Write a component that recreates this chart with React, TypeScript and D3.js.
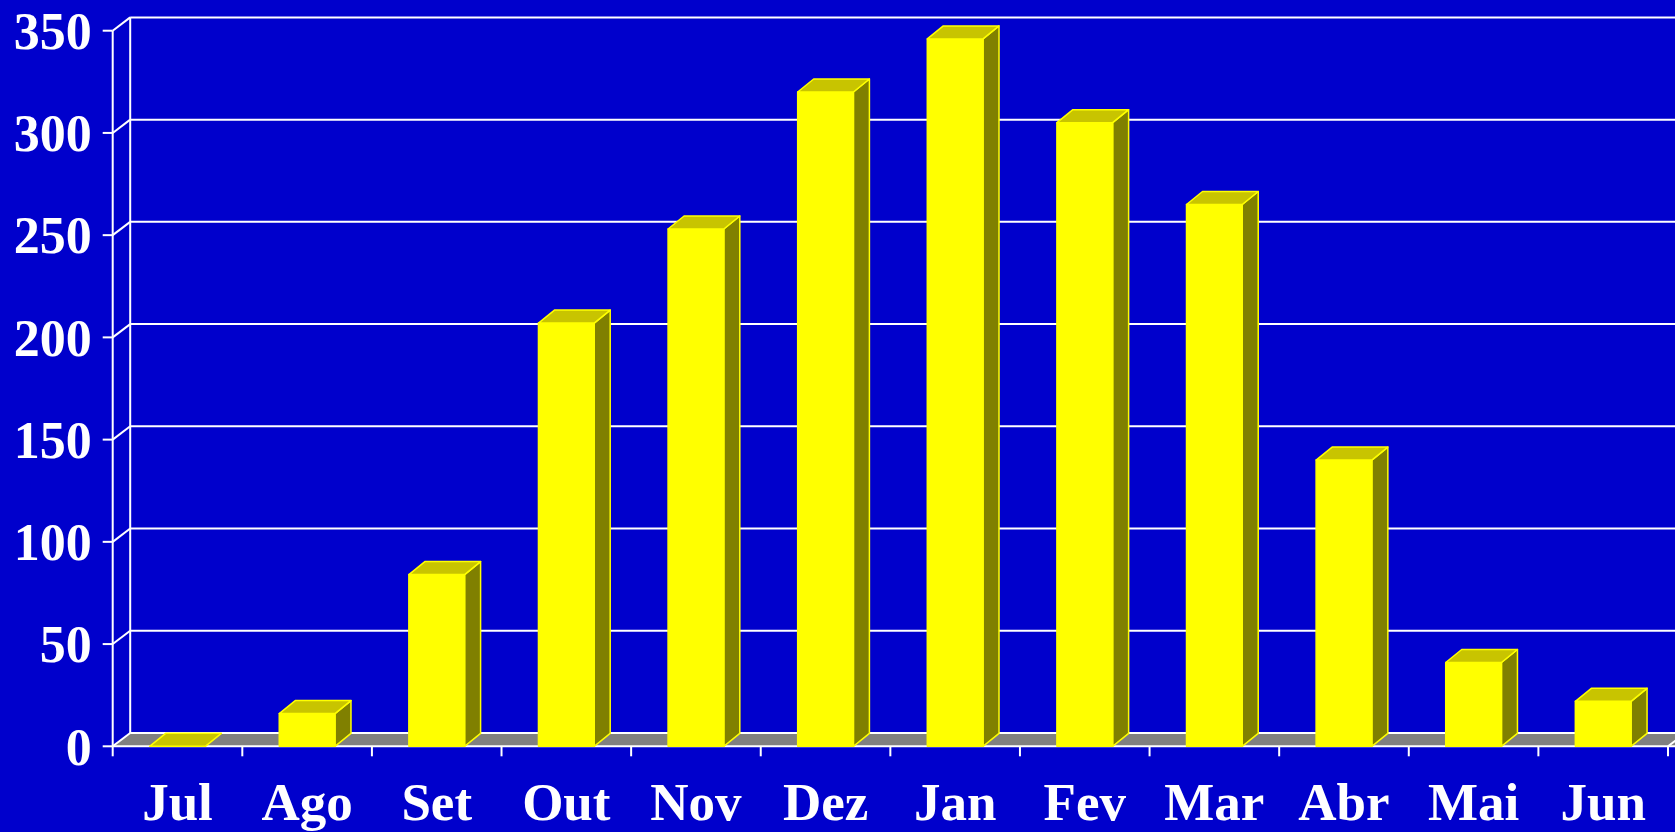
import React from 'react'
import * as d3 from 'd3'

// monthly values
const months = ['Jul', 'Ago', 'Set', 'Out', 'Nov', 'Dez', 'Jan', 'Fev', 'Mar', 'Abr', 'Mai', 'Jun']
const values = [0, 16, 84, 207, 253, 320, 346, 305, 265, 140, 41, 22]
const yTicks = [0, 50, 100, 150, 200, 250, 300, 350]

const W = 1675
const H = 832

const App = () => {
  const x0 = 112.7
  const x1 = 1668
  const yBase = 746.3
  const yTop = 30.7
  // depth of the 3d box
  const dx = 17.5
  const dy = -13.3
  const bdx = 16
  const bdy = -13

  const xScale = d3.scaleBand<string>()
    .domain(months)
    .range([x0, x1])
    .paddingInner(0.57)
    .paddingOuter(0.285)

  const yScale = d3.scaleLinear()
    .domain([0, 350])
    .range([yBase, yTop])

  const step = xScale.step()
  const tickXs = d3.range(months.length + 1).map(i => x0 + i * step)

  const font = '"Liberation Serif", "Times New Roman", serif'

  return (
    <div style={{ position: 'fixed', left: 0, top: 0 }}>
      <svg width={W} height={H} style={{ display: 'block' }}>
        <rect x={0} y={0} width={W} height={H} fill='#0000cc' />

        {/* floor */}
        <polygon
          points={`${x0},${yBase} ${x0 + dx},${yBase + dy} ${W + 30},${yBase + dy} ${W + 30},${yBase}`}
          fill='#808080'
        />

        {/* back wall grid + side wall diagonals */}
        {yTicks.map(t => (
          <g key={t}>
            <line x1={x0 + dx} x2={W + 30} y1={yScale(t) + dy} y2={yScale(t) + dy} stroke='white' strokeWidth={2} />
            <line x1={x0} x2={x0 + dx} y1={yScale(t)} y2={yScale(t) + dy} stroke='white' strokeWidth={2} />
            <line x1={x0 - 10} x2={x0} y1={yScale(t)} y2={yScale(t)} stroke='white' strokeWidth={2} />
            <text
              x={x0 - 21}
              y={yScale(t)}
              dy='0.35em'
              textAnchor='end'
              fill='white'
              fontFamily={font}
              fontWeight='bold'
              fontSize={52}
            >{t}</text>
          </g>
        ))}
        <line x1={x0 + dx} x2={x0 + dx} y1={yScale(350) + dy} y2={yBase + dy} stroke='white' strokeWidth={2} />
        <line x1={x0} x2={x0} y1={yScale(350)} y2={yBase} stroke='white' strokeWidth={2} />

        {/* x axis */}
        <line x1={x0} x2={W + 30} y1={yBase} y2={yBase} stroke='white' strokeWidth={2} />
        <line x1={x1} x2={x1 + dx} y1={yBase} y2={yBase + dy} stroke='white' strokeWidth={2} />
        {tickXs.map((tx, i) => (
          <line key={i} x1={tx} x2={tx} y1={yBase} y2={yBase + 10} stroke='white' strokeWidth={2} />
        ))}

        {/* bars */}
        {months.map((m, i) => {
          const bx = xScale(m) as number
          const bw = xScale.bandwidth()
          const by = yScale(values[i])
          const front = `${bx},${by} ${bx + bw},${by} ${bx + bw},${yBase} ${bx},${yBase}`
          const top = `${bx},${by} ${bx + bdx},${by + bdy} ${bx + bw + bdx},${by + bdy} ${bx + bw},${by}`
          const side = `${bx + bw},${by} ${bx + bw + bdx},${by + bdy} ${bx + bw + bdx},${yBase + bdy} ${bx + bw},${yBase}`
          return (
            <g key={m} stroke='#ffff00' strokeWidth={1.5} strokeLinejoin='round'>
              {values[i] > 0 && <polygon points={side} fill='#808000' />}
              {values[i] > 0 && <polygon points={front} fill='#ffff00' />}
              <polygon points={top} fill='#c8c400' />
            </g>
          )
        })}

        {/* month labels */}
        {months.map(m => (
          <text
            key={m}
            x={(xScale(m) as number) + xScale.bandwidth() / 2}
            y={820}
            textAnchor='middle'
            fill='white'
            fontFamily={font}
            fontWeight='bold'
            fontSize={53}
          >{m}</text>
        ))}
      </svg>
    </div>
  )
}

export default App
